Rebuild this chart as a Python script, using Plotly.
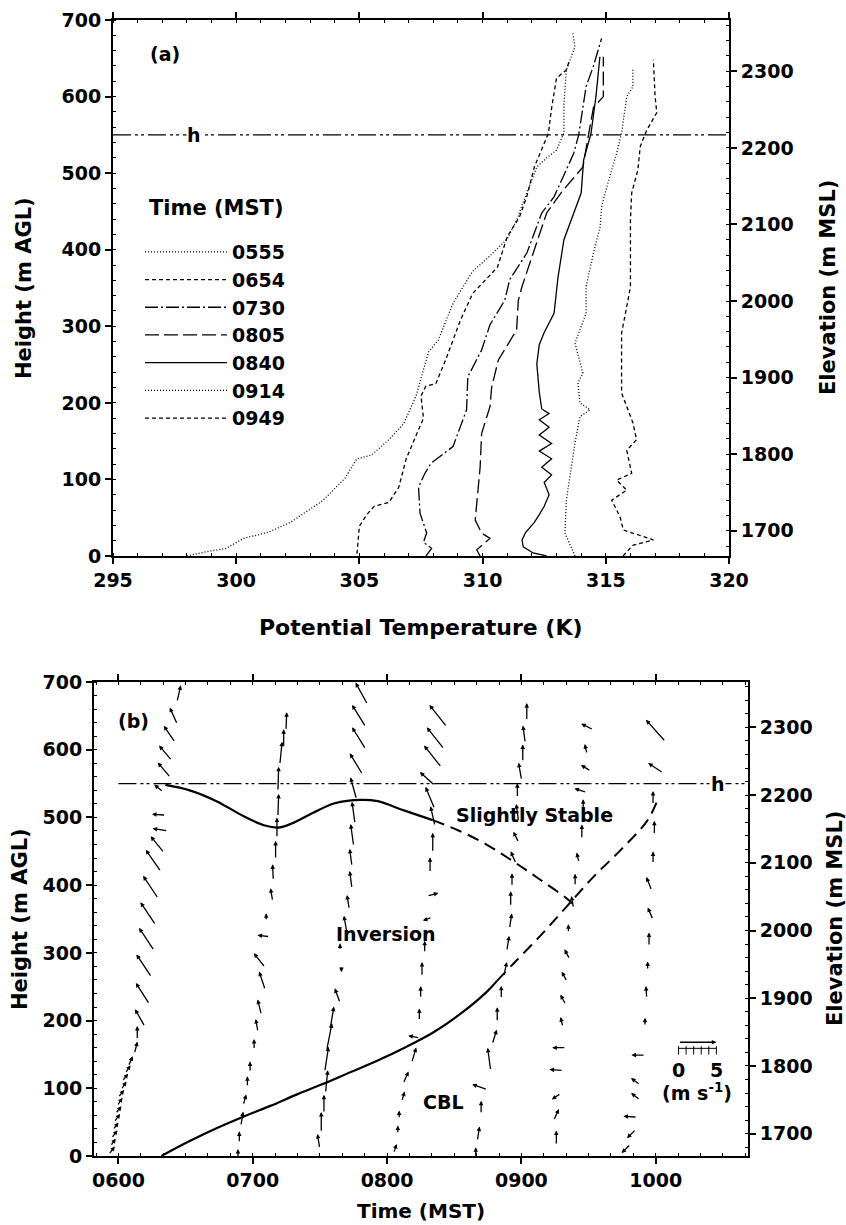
import plotly.graph_objects as go

W, H = 846, 1225

# ---------------- Panel (a): potential temperature profiles ----------------
theta_0555 = [298.0, 298.7, 299.6, 300.3, 301.3, 302.2, 302.9, 303.5, 304.0, 304.4, 304.9, 305.5, 306.2, 306.8,
              307.3, 307.8, 308.2, 308.8, 309.6, 310.2, 311.0, 311.4, 311.6, 312.2, 312.6, 313.0, 313.3, 313.3,
              313.4, 313.75, 313.65]
height_0555 = [0, 5, 10, 23, 31, 44, 59, 72, 88, 101, 127, 132, 152, 173, 209, 266, 282, 330, 372, 389, 414, 440,
               458, 508, 520, 530, 552, 590, 635, 665, 685]

theta_0654 = [304.9, 305.0, 305.3, 305.6, 306.2, 306.6, 306.9, 307.3, 307.6, 307.5, 307.7, 308.1, 308.5, 309.1,
              309.6, 310.6, 311.0, 311.5, 311.8, 312.1, 312.4, 312.67, 312.8, 313.0, 313.4, 313.5]
height_0654 = [3, 39, 54, 65, 70, 90, 127, 158, 180, 209, 222, 225, 256, 308, 343, 377, 417, 443, 470, 508, 530, 552,
               585, 624, 635, 645]

theta_0730 = [307.7, 307.93, 307.6, 307.73, 307.46, 307.4, 307.66, 307.9, 308.8, 309.35, 309.4, 309.96, 310.3,
              310.9, 311.1, 311.8, 312.4, 312.9, 313.7, 313.9, 314.2, 314.5, 314.83]
height_0730 = [0, 10, 18, 30, 56, 90, 108, 121, 143, 191, 234, 269, 302, 334, 361, 396, 448, 469, 526, 550, 613,
               640, 676]

theta_0805 = [309.9, 309.76, 310.3, 309.96, 309.7, 309.9, 309.96, 310.3, 310.37, 310.64, 311.38, 311.45, 311.6,
              312.05, 312.4, 312.6, 313.2, 314.07, 314.3, 314.5, 314.9, 314.9]
height_0805 = [0, 8, 23, 30, 47, 116, 160, 195, 221, 256, 295, 334, 352, 396, 430, 448, 475, 508, 550, 586, 600, 652]

theta_0840 = [312.6, 312.05, 311.65, 311.6, 311.75, 312.1, 312.3, 312.5, 312.7, 312.5, 312.8, 312.4, 312.8, 312.3,
              312.8, 312.3, 312.7, 312.3, 312.7, 312.4, 312.3, 312.2, 312.3, 312.5, 312.9, 313.06, 313.3, 314.0,
              314.1, 314.4, 314.6, 314.76]
height_0840 = [0, 4, 12, 21, 31, 44, 54, 65, 80, 96, 106, 116, 127, 137, 147, 158, 168, 178, 186, 192, 214, 251,
               276, 292, 317, 364, 413, 474, 517, 552, 600, 652]

theta_0914 = [313.75, 313.34, 313.4, 313.55, 313.75, 313.95, 314.36, 313.95, 313.87, 314.07, 313.75, 314.2, 314.2,
              314.5, 314.77, 314.83, 315.04, 315.44, 315.64, 315.85, 316.1, 316.1]
height_0914 = [0, 30, 73, 108, 148, 182, 191, 200, 226, 239, 278, 317, 352, 396, 430, 456, 482, 526, 552, 600, 613,
               635]

theta_0949 = [315.7, 316.1, 316.93, 315.71, 315.58, 315.24, 315.85, 315.44, 316.05, 315.85, 316.25, 316.1, 315.64,
              315.64, 315.9, 316.0, 316.0, 316.05, 316.3, 316.4, 316.66, 317.07, 317.0, 316.93]
height_0949 = [0, 14, 21, 34, 51, 73, 86, 99, 108, 138, 152, 174, 213, 291, 334, 352, 439, 474, 504, 535, 556, 579,
               600, 648]

profile_labels = ["0555", "0654", "0730", "0805", "0840", "0914", "0949"]
h_level = 550          # boundary-layer depth h (m AGL)
elev_offset = 1667     # ground elevation (m MSL)

# ---------------- Panel (b): time-height cross-section ----------------
inv_solid_time = [6.35, 6.53, 6.73, 6.93, 7.09, 7.19, 7.29, 7.45, 7.61, 7.81, 7.93, 8.13, 8.34]
inv_solid_height = [548, 540, 524, 502, 488, 485, 491, 507, 521, 526, 524, 510, 496]
inv_dash_time = [8.34, 8.54, 8.74, 8.94, 9.14, 9.34, 9.41]
inv_dash_height = [496, 480, 460, 435, 408, 380, 367]

cbl_solid_time = [6.32, 6.53, 6.73, 6.93, 7.13, 7.33, 7.53, 7.73, 7.93, 8.13, 8.34, 8.54, 8.74, 8.82]
cbl_solid_height = [0, 22, 41, 58, 74, 91, 107, 124, 141, 160, 182, 209, 242, 259]
cbl_dash_time = [8.82, 8.94, 9.14, 9.34, 9.54, 9.74, 9.94, 10.02]
cbl_dash_height = [259, 284, 325, 369, 413, 452, 496, 529]

# wind profiles: position (time, height) and components (u east, v north) in m/s
c1_time = [5.95, 5.96, 5.97, 5.98, 5.99, 6.00, 6.01, 6.02, 6.04, 6.05, 6.07, 6.09, 6.13, 6.14, 6.16, 6.18, 6.19,
           6.21, 6.22, 6.24, 6.26, 6.29, 6.31, 6.30, 6.30, 6.34, 6.35, 6.38, 6.41, 6.45]
c1_height = [8, 20, 32, 44, 56, 68, 80, 92, 104, 116, 128, 140, 160, 182, 204, 240, 281, 320, 358, 397, 436, 460,
             482, 504, 543, 570, 595, 623, 650, 683]
c1_u = [0.8, 0.7, 0.8, 0.7, 0.8, 0.8, 0.7, 0.8, 0.7, 0.8, 0.7, 0.6, 0.4, 0.0, -1.3, -1.8, -2.0, -2.0, -2.0, -2.0,
        -2.0, -1.8, -2.0, -1.8, -1.2, -1.7, -1.7, -1.5, -1.0, 0.5]
c1_v = [1.1, 1.0, 1.1, 1.0, 1.1, 1.0, 1.1, 1.0, 1.1, 1.0, 1.1, 1.3, 1.6, 1.8, 2.3, 2.8, 3.0, 3.0, 3.0, 3.0, 2.9,
        2.2, 0.3, 0.1, 1.0, 2.0, 2.0, 2.2, 2.2, 2.2]

c2_time = [6.89, 6.90, 6.92, 6.94, 6.96, 6.98, 7.01, 7.03, 7.05, 7.07, 7.05, 7.08, 7.10, 7.14, 7.15, 7.17, 7.18,
           7.19, 7.19, 7.21, 7.23, 7.25]
c2_height = [3, 28, 55, 83, 110, 132, 165, 193, 220, 259, 289, 325, 353, 386, 419, 452, 485, 518, 557, 595, 617, 642]
c2_u = [0, 0, 0.3, 0.4, 0, 0, 0, -0.3, -0.5, -0.8, -1.5, -1.6, 0, -0.3, -0.1, 0, 0, 0.1, 0.1, 0.3, 0, 0.1]
c2_v = [1.3, 1.5, 1.9, 1.4, 1.4, 1.4, 1.4, 1.7, 2.0, 2.4, 1.9, 0.2, 1.0, 1.7, 2.1, 2.4, 2.7, 3.0, 3.2, 3.0, 2.4, 2.4]

c3_time = [7.49, 7.51, 7.53, 7.55, 7.55, 7.57, 7.59, 7.63, 7.66, 7.65, 7.69, 7.71, 7.73, 7.73, 7.74, 7.75, 7.75,
           7.77, 7.79, 7.79, 7.81]
c3_height = [22, 50, 77, 110, 143, 176, 204, 237, 276, 309, 342, 375, 408, 441, 474, 507, 543, 579, 617, 650, 683]
c3_u = [-0.3, 0, 0, 0.3, 0.5, 0.7, 0.5, -0.7, 0, 0, -0.4, -0.3, -0.3, -0.3, -0.4, -0.4, -0.8, -1.7, -1.8, -1.8, -1.6]
c3_v = [1.9, 2.7, 2.4, 3.0, 3.3, 3.6, 3.0, 1.9, -0.8, 0.9, 2.3, 1.9, 2.3, 2.3, 2.9, 2.9, 2.9, 2.8, 2.9, 2.9, 2.9]

c4_time = [8.06, 8.08, 8.09, 8.12, 8.14, 8.20, 8.20, 8.24, 8.25, 8.26, 8.28, 8.30, 8.34, 8.32, 8.34, 8.34, 8.32,
           8.30, 8.34, 8.36, 8.38]
c4_height = [11, 39, 61, 88, 116, 149, 176, 209, 242, 276, 309, 350, 386, 430, 463, 502, 529, 557, 590, 617, 650]
c4_u = [0.4, 0, 0, 0.4, 0.7, 0.6, -1.5, 0, 0, 0, 0, -1.2, 1.5, 0, 0, -0.6, -1.2, -2.0, -2.3, -2.3, -2.3]
c4_v = [1.2, 1.1, 1.1, 1.3, 1.6, 2.0, 0.3, 1.6, 1.6, 1.9, 1.6, -0.4, 0.4, 2.0, 2.6, 2.6, 2.9, 1.8, 2.9, 2.9, 2.9]

c5_time = [8.66, 8.68, 8.70, 8.69, 8.76, 8.80, 8.82, 8.85, 8.88, 8.90, 8.92, 8.92, 8.93, 8.94, 8.96, 8.97, 8.97,
           8.99, 9.01, 9.02, 9.04]
c5_height = [5, 33, 72, 102, 143, 176, 209, 242, 276, 314, 347, 380, 408, 441, 471, 507, 540, 568, 595, 623, 656]
c5_u = [0, 0.3, 0, -2.0, -0.4, 0.6, 0, 0, 0.4, 0.3, 0.3, 0, 0, -0.7, -0.7, -0.3, 0, -0.4, 0, -0.3, 0]
c5_v = [1.4, 1.9, 1.7, 0.7, 3.0, 1.9, 1.9, 1.7, 1.9, 2.0, 2.0, 2.0, 1.7, 1.6, 1.4, 2.3, 1.9, 2.3, 2.3, 2.3, 2.3]

c6_time = [9.26, 9.26, 9.26, 9.26, 9.28, 9.30, 9.31, 9.32, 9.34, 9.35, 9.38, 9.40, 9.42, 9.45, 9.46, 9.44, 9.48,
           9.48, 9.49]
c6_height = [27, 61, 88, 127, 160, 198, 231, 265, 298, 336, 375, 408, 441, 479, 518, 540, 573, 601, 634]
c6_u = [0, 0.7, -1.2, -1.8, -1.8, -0.3, -0.7, -0.7, -0.7, 0, -0.3, 0, -0.3, 0, 0, -1.6, -1.3, -0.3, -1.6]
c6_v = [1.9, 1.5, -0.8, 0.1, 0, 1.3, 1.3, 1.3, 1.3, 1.1, 1.6, 1.6, 1.3, 1.9, 1.6, 0.5, 0.8, 1.3, 0.8]

c7_time = [9.78, 9.82, 9.81, 9.85, 9.85, 9.87, 9.92, 9.93, 9.94, 9.95, 9.96, 9.95, 9.98, 9.99, 9.98, 10.00, 10.00]
c7_height = [11, 33, 58, 88, 110, 149, 198, 242, 281, 320, 358, 402, 441, 485, 529, 573, 628]
c7_u = [-1.2, -1.2, -1.8, -1.2, -1.2, -1.8, 0, -0.1, 0, 0, -0.7, -0.7, 0, 0, 0, -2.0, -2.6]
c7_v = [-1.2, -1.2, 0.1, 0.9, 0.9, 0, 1.1, 1.6, 1.1, 1.8, 1.6, 1.8, 1.6, 1.8, 1.8, 1.3, 2.9]

time_ticks = [6, 7, 8, 9, 10]
time_tick_labels = ["0600", "0700", "0800", "0900", "1000"]
scale_speed = 5  # m/s reference vector

# ---------------- Layout geometry ----------------
dom_x1 = [113 / W, 729 / W]
dom_y1 = [1 - 556 / H, 1 - 20 / H]
dom_x2 = [94 / W, 748 / W]
dom_y2 = [1 - 1156 / H, 1 - 682 / H]
rng_x1 = [295, 320]
rng_y = [0, 700]
rng_x2 = [5.818, 10.687]
rng_elev = [rng_y[0] + elev_offset, rng_y[1] + elev_offset]

FONT = "DejaVu Sans, Verdana, sans-serif"
def F(size):
    return dict(family=FONT, size=size, color="black", weight="bold")

fig = go.Figure()

styles = [
    dict(dash="1px,2px", width=1.3),
    dict(dash="4px,3px", width=1.3),
    dict(dash="13px,3px,2px,3px", width=1.3),
    dict(dash="14px,5px", width=1.3),
    dict(dash="solid", width=1.3),
    dict(dash="1px,2px", width=1.3),
    dict(dash="4px,3px", width=1.3),
]
thetas = [theta_0555, theta_0654, theta_0730, theta_0805, theta_0840, theta_0914, theta_0949]
heights = [height_0555, height_0654, height_0730, height_0805, height_0840, height_0914, height_0949]
for lab, th, hh, st in zip(profile_labels, thetas, heights, styles):
    fig.add_trace(go.Scatter(x=th, y=hh, mode="lines", name=lab, legendgroup=lab,
                             line=dict(color="black", **st), xaxis="x", yaxis="y"))

HDASH = "18px,4px,3px,3px,3px,4px"
# h line (panel a), drawn against the elevation axis
fig.add_trace(go.Scatter(x=rng_x1, y=[h_level + elev_offset] * 2, mode="lines", showlegend=False,
                         line=dict(color="black", width=1.3, dash=HDASH), xaxis="x", yaxis="y3"))

# panel b curves
fig.add_trace(go.Scatter(x=[time_ticks[0], rng_x2[1]], y=[h_level + elev_offset] * 2, mode="lines",
                         showlegend=False, line=dict(color="black", width=1.3, dash=HDASH),
                         xaxis="x2", yaxis="y4"))
fig.add_trace(go.Scatter(x=inv_solid_time, y=inv_solid_height, mode="lines", showlegend=False,
                         line=dict(color="black", width=2.2, shape="spline"), xaxis="x2", yaxis="y2"))
fig.add_trace(go.Scatter(x=inv_dash_time, y=inv_dash_height, mode="lines", showlegend=False,
                         line=dict(color="black", width=2.0, dash="12px,7px", shape="spline"), xaxis="x2", yaxis="y2"))
fig.add_trace(go.Scatter(x=cbl_solid_time, y=cbl_solid_height, mode="lines", showlegend=False,
                         line=dict(color="black", width=2.2, shape="spline"), xaxis="x2", yaxis="y2"))
fig.add_trace(go.Scatter(x=cbl_dash_time, y=cbl_dash_height, mode="lines", showlegend=False,
                         line=dict(color="black", width=2.0, dash="12px,7px", shape="spline"), xaxis="x2", yaxis="y2"))

# wind arrows
px_per_hour = (dom_x2[1] - dom_x2[0]) * W / (rng_x2[1] - rng_x2[0])
px_per_m = (dom_y2[1] - dom_y2[0]) * H / (rng_y[1] - rng_y[0])
PX_PER_MS = 7.56
kx = PX_PER_MS / px_per_hour
ky = PX_PER_MS / px_per_m

ARW = dict(xref="x2", yref="y2", axref="x2", ayref="y2", text="", showarrow=True,
           arrowhead=2, arrowsize=0.7, arrowwidth=1.3, arrowcolor="black")
annotations = []
cols = [(c1_time, c1_height, c1_u, c1_v), (c2_time, c2_height, c2_u, c2_v), (c3_time, c3_height, c3_u, c3_v),
        (c4_time, c4_height, c4_u, c4_v), (c5_time, c5_height, c5_u, c5_v), (c6_time, c6_height, c6_u, c6_v),
        (c7_time, c7_height, c7_u, c7_v)]
for tt, hh, uu, vv in cols:
    for t, h, u, v in zip(tt, hh, uu, vv):
        dx, dy = u * kx, v * ky
        annotations.append(dict(x=t + dx / 2, y=h + dy / 2, ax=t - dx / 2, ay=h - dy / 2, **ARW))

# scale vector
sx0 = 10.17
annotations.append(dict(x=sx0 + scale_speed * kx, y=168, ax=sx0, ay=168, **ARW))
fig.add_trace(go.Scatter(x=[sx0, sx0 + scale_speed * kx], y=[159, 159], mode="lines", showlegend=False,
                         line=dict(color="black", width=1), xaxis="x2", yaxis="y2"))
fig.add_trace(go.Scatter(x=[sx0 + i * kx for i in range(scale_speed + 1)], y=[156] * (scale_speed + 1),
                         mode="markers", showlegend=False,
                         marker=dict(symbol="line-ns", size=6, line=dict(color="black", width=1)),
                         xaxis="x2", yaxis="y2"))

def txt(x, y, text, size=19, xref="x2", yref="y2", **kw):
    d = dict(x=x, y=y, xref=xref, yref=yref, text=text, showarrow=False, font=F(size),
             xanchor="center", yanchor="middle")
    d.update(kw)
    return d

annotations += [
    txt(sx0, 127, "0"),
    txt(sx0 + scale_speed * kx, 127, "5"),
    txt(sx0 + scale_speed * kx / 2, 94, "(m s<sup>-1</sup>)"),
    txt(6.11, 642, "(b)"),
    txt(9.10, 504, "Slightly Stable"),
    txt(7.99, 328, "Inversion"),
    txt(8.42, 80, "CBL"),
    txt(10.46, h_level, "h", bgcolor="white", borderpad=0),
    txt(297.1, 656, "(a)", xref="x", yref="y"),
    txt(298.3, h_level, "h", xref="x", yref="y", bgcolor="white", borderpad=0),
    txt(147 / W, 1 - 208 / H, "Time (MST)", size=21, xref="paper", yref="paper", xanchor="left"),
]

yc1 = (dom_y1[0] + dom_y1[1]) / 2
yc2 = (dom_y2[0] + dom_y2[1]) / 2
annotations += [
    txt((dom_x1[0] + dom_x1[1]) / 2, 1 - 627 / H, "Potential Temperature (K)", 22, "paper", "paper"),
    txt(24 / W, yc1, "Height (m AGL)", 21, "paper", "paper", textangle=-90),
    txt(828 / W, yc1, "Elevation (m MSL)", 21, "paper", "paper", textangle=-90),
    txt((dom_x2[0] + dom_x2[1]) / 2, 1 - 1211 / H, "Time (MST)", 20, "paper", "paper"),
    txt(20 / W, yc2, "Height (m AGL)", 21, "paper", "paper", textangle=-90),
    txt(835 / W, yc2, "Elevation (m MSL)", 21, "paper", "paper", textangle=-90),
]

MINOR = dict(ticks="inside", ticklen=3, tickwidth=1, tickcolor="black")
def axis_common(minor_dtick, **kw):
    d = dict(showgrid=False, zeroline=False, showline=True, linecolor="black", linewidth=2,
             ticks="outside", ticklen=6, tickwidth=1.5, tickcolor="black", tickfont=F(19),
             minor=dict(MINOR, dtick=minor_dtick))
    d.update(kw)
    return d

fig.update_layout(
    width=W, height=H, margin=dict(l=0, r=0, t=0, b=0, autoexpand=False),
    paper_bgcolor="white", plot_bgcolor="white",
    xaxis=axis_common(1, domain=dom_x1, range=rng_x1, anchor="y", tick0=295, dtick=5, mirror="ticks"),
    yaxis=axis_common(20, domain=dom_y1, range=rng_y, anchor="x", tick0=0, dtick=100),
    yaxis3=axis_common(20, overlaying="y", side="right", anchor="x", range=rng_elev, tick0=1700, dtick=100),
    xaxis2=axis_common(1 / 6, domain=dom_x2, range=rng_x2, anchor="y2", tick0=6, dtick=1, mirror="ticks",
                       labelalias={str(v): l for v, l in zip(time_ticks, time_tick_labels)}),
    yaxis2=axis_common(20, domain=dom_y2, range=rng_y, anchor="x2", tick0=0, dtick=100),
    yaxis4=axis_common(20, overlaying="y2", side="right", anchor="x2", range=rng_elev, tick0=1700, dtick=100),
    legend=dict(x=140 / W, y=1 - 233 / H, xanchor="left", yanchor="top", bgcolor="rgba(0,0,0,0)",
                font=F(19), tracegroupgap=0, itemwidth=82),
    annotations=annotations,
    showlegend=True,
)

fig.write_html("out.html", config={"displayModeBar": False},
               post_script="document.body.style.margin='0';")
